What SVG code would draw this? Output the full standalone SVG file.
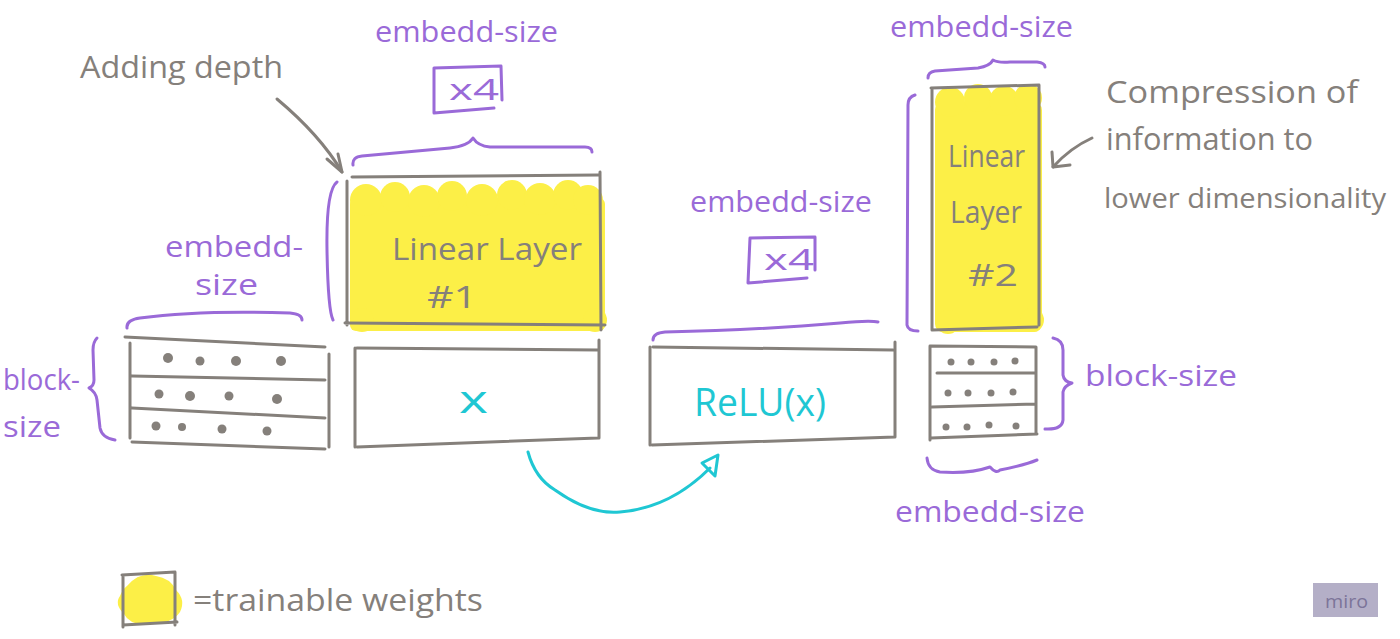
<svg xmlns="http://www.w3.org/2000/svg" width="1400" height="639" viewBox="0 0 1400 639">
<defs>
<style>
.bg{fill:#ffffff}
.box{fill:none;stroke:#85807b;stroke-width:3;stroke-linecap:round;stroke-linejoin:round}
.pur{fill:none;stroke:#9a6ad8;stroke-width:3;stroke-linecap:round;stroke-linejoin:round}
.cy{fill:none;stroke:#1fc7d3;stroke-width:3;stroke-linecap:round;stroke-linejoin:round}
.gl{fill:none;stroke:#85807b;stroke-width:3;stroke-linecap:round;stroke-linejoin:round}
.yel{fill:#fcef47}
.dot{fill:#85807b}
text{font-family:"Open Sans","Liberation Sans",sans-serif;font-weight:400}
.tp{fill:#9a6ad8;font-size:30px}
.tg{fill:#85807b;font-size:31px}
.tc{fill:#1fc7d3;font-size:38px}
</style>
</defs>
<rect class="bg" x="0" y="0" width="1400" height="639"/>

<g id="adding-depth">
<text class="tg" x="80" y="78" textLength="203" lengthAdjust="spacingAndGlyphs">Adding depth</text>
</g>

<g id="top-embedd-size">
<text class="tp" x="375" y="42" textLength="183" lengthAdjust="spacingAndGlyphs">embedd-size</text>
<path class="pur" d="M434,68 L501,66 L502,100 M434,68 L434,113 L494,108"/>
<text class="tp" x="449" y="100" textLength="50" lengthAdjust="spacingAndGlyphs">x4</text>
</g>

<g id="linear-layer-1">
<path class="pur" d="M353,165 Q352,157 362,156 L450,148 Q468,146 473,138 Q478,146 490,147 L585,147 Q592,147 592,152"/>
<path class="pur" d="M337,182 Q326,190 327,250 Q328,310 333,320"/>
<rect class="yel" x="350" y="198" width="255" height="133" rx="6"/>
<g class="yel">
<circle cx="366" cy="200" r="16"/><circle cx="395" cy="197" r="15"/><circle cx="424" cy="201" r="16"/><circle cx="452" cy="196" r="15"/><circle cx="482" cy="200" r="16"/><circle cx="512" cy="195" r="15"/><circle cx="540" cy="199" r="16"/><circle cx="568" cy="195" r="15"/><circle cx="588" cy="200" r="15"/>
<circle cx="362" cy="320" r="12"/><circle cx="595" cy="320" r="12"/>
</g>
<path class="box" d="M352,177 L598,175 M347,181 L347,325 M600,172 L601,330 M345,323 L605,325"/>
<text class="tg" x="392" y="260" textLength="190" lengthAdjust="spacingAndGlyphs">Linear Layer</text>
<text class="tg" x="427" y="308" textLength="50" lengthAdjust="spacingAndGlyphs">#1</text>
</g>

<g id="input-block">
<text class="tp" x="165" y="257" textLength="138" lengthAdjust="spacingAndGlyphs">embedd-</text>
<text class="tp" x="195" y="295" textLength="63" lengthAdjust="spacingAndGlyphs">size</text>
<path class="pur" d="M127,328 Q126,320 140,318 Q200,310 290,313 Q302,314 302,320"/>
<text class="tp" x="3" y="390" textLength="77" lengthAdjust="spacingAndGlyphs">block-</text>
<text class="tp" x="3" y="437" textLength="58" lengthAdjust="spacingAndGlyphs">size</text>
<path class="pur" d="M97,338 Q93,342 93,350 L94,380 Q94,386 89,388 Q96,392 97,400 L100,428 Q102,438 115,440"/>
<path class="box" d="M125,337 L325,347 M130,343 L130,438 M329,354 L329,447 M132,442 L325,449 M132,376 L325,380 M132,408 L325,418"/>
<g class="dot">
<circle cx="168" cy="358" r="5"/><circle cx="200" cy="361" r="4.5"/><circle cx="236" cy="361" r="5"/><circle cx="281" cy="361" r="5"/>
<circle cx="159" cy="394" r="4.5"/><circle cx="190" cy="396" r="5"/><circle cx="229" cy="396" r="4.5"/><circle cx="277" cy="399" r="5"/>
<circle cx="156" cy="426" r="4.5"/><circle cx="182" cy="427" r="4"/><circle cx="222" cy="429" r="4.5"/><circle cx="267" cy="431" r="4.5"/>
</g>
</g>

<g id="x-box">
<path class="box" d="M357,348 L598,350 M355,348 L355,447 M599,340 L599,438 M357,447 L598,438"/>
<text class="tc" x="459" y="413" textLength="29" lengthAdjust="spacingAndGlyphs">x</text>
</g>

<g id="relu-box">
<text class="tp" x="690" y="212" textLength="182" lengthAdjust="spacingAndGlyphs">embedd-size</text>
<path class="pur" d="M750,238 L815,237 L815,270 M750,238 L748,283 L807,278"/>
<text class="tp" x="764" y="270" textLength="50" lengthAdjust="spacingAndGlyphs">x4</text>
<path class="pur" d="M653,340 Q653,333 665,332 Q760,330 840,323 Q870,320 878,322"/>
<path class="box" d="M653,347 L893,350 M650,347 L650,445 M895,342 L895,437 M652,445 L895,437"/>
<text class="tc" x="694" y="416" textLength="132" lengthAdjust="spacingAndGlyphs">ReLU(x)</text>
</g>

<g id="linear-layer-2">
<text class="tp" x="890" y="37" textLength="183" lengthAdjust="spacingAndGlyphs">embedd-size</text>
<path class="pur" d="M928,78 Q928,72 935,71 L978,68 Q990,66 993,60 Q998,63 1010,62 L1037,62 Q1045,63 1045,67"/>
<path class="pur" d="M915,95 Q908,97 908,105 L907,325 Q908,331 918,331"/>
<rect class="yel" x="935" y="102" width="107" height="230" rx="8"/>
<g class="yel">
<circle cx="950" cy="102" r="15"/><circle cx="978" cy="98" r="14"/><circle cx="1004" cy="101" r="15"/><circle cx="1028" cy="98" r="14"/>
<circle cx="948" cy="322" r="12"/><circle cx="1032" cy="320" r="12"/>
</g>
<path class="box" d="M931,88 L1039,85 M932,88 L932,330 M1039,85 L1039,325 M932,330 L1037,327"/>
<text class="tg" x="948" y="167" textLength="77" lengthAdjust="spacingAndGlyphs">Linear</text>
<text class="tg" x="950" y="223" textLength="72" lengthAdjust="spacingAndGlyphs">Layer</text>
<text class="tg" x="968" y="286" textLength="50" lengthAdjust="spacingAndGlyphs">#2</text>
</g>

<g id="compression-note">
<text class="tg" x="1106" y="103" textLength="252" lengthAdjust="spacingAndGlyphs">Compression of</text>
<text class="tg" x="1106" y="150" textLength="207" lengthAdjust="spacingAndGlyphs">information to</text>
<text class="tg" x="1104" y="208" font-size="28" style="font-size:28px" textLength="282" lengthAdjust="spacingAndGlyphs">lower dimensionality</text>
</g>

<g id="output-block">
<path class="box" d="M930,346 L1036,347 M930,346 L930,440 M1036,347 L1036,433 M931,438 L1037,434 M937,373 L1036,373 M932,407 L1036,404"/>
<g class="dot">
<circle cx="951" cy="362" r="3.5"/><circle cx="971" cy="362" r="3.5"/><circle cx="994" cy="362" r="3.5"/><circle cx="1015" cy="361" r="3.5"/>
<circle cx="948" cy="393" r="3.5"/><circle cx="968" cy="393" r="3.5"/><circle cx="991" cy="393" r="3.5"/><circle cx="1013" cy="392" r="3.5"/>
<circle cx="946" cy="427" r="3.5"/><circle cx="967" cy="427" r="3.5"/><circle cx="989" cy="425" r="3.5"/><circle cx="1016" cy="426" r="3.5"/>
</g>
<path class="pur" d="M1053,338 Q1063,340 1063,350 L1063,375 Q1064,382 1072,383 Q1064,386 1063,392 L1063,420 Q1062,430 1045,429"/>
<text class="tp" x="1085" y="386" textLength="152" lengthAdjust="spacingAndGlyphs">block-size</text>
<path class="pur" d="M927,458 Q928,470 940,472 Q970,474 990,467 Q996,474 1000,470 Q1025,465 1037,460"/>
<text class="tp" x="895" y="522" textLength="190" lengthAdjust="spacingAndGlyphs">embedd-size</text>
</g>

<g id="legend">
<path class="yel" d="M128,585 Q140,571 156,576 Q170,578 176,590 Q186,600 180,612 Q172,624 150,624 Q130,626 124,614 Q114,604 120,596 Q122,590 128,585 Z"/>
<path class="box" d="M122,575 L175,572 M123,575 L123,627 M175,572 L175,625 M123,625 L177,622"/>
<text class="tg" x="193" y="611" textLength="290" lengthAdjust="spacingAndGlyphs">=trainable weights</text>
</g>

<g id="connectors">
<path class="gl" d="M277,99 Q320,135 342,172"/>
<path class="gl" d="M327,159 L342,172 L338,154"/>
<path class="gl" d="M1092,138 Q1070,148 1053,167"/>
<path class="gl" d="M1052,152 L1053,167 L1070,165"/>
<path class="cy" d="M528,452 Q535,478 555,490 Q590,515 620,512 Q670,508 710,468"/>
<path class="cy" d="M702,463 L718,455 L715,476 Z"/>
</g>

<g id="miro-logo">
<rect x="1313" y="583" width="65" height="34" fill="#b4afc7"/>
<text x="1325" y="608" font-size="19" fill="#7c7499" textLength="43" lengthAdjust="spacingAndGlyphs">miro</text>
</g>
</svg>
